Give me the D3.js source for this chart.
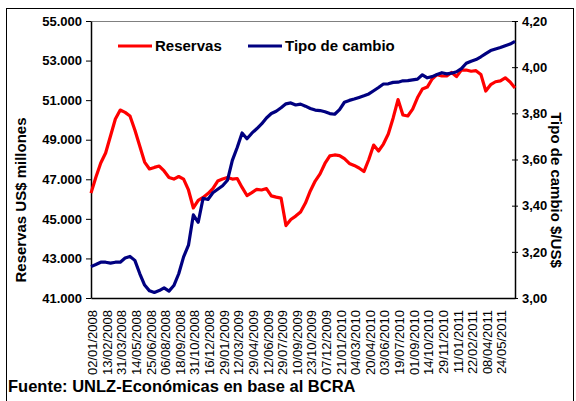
<!DOCTYPE html>
<html>
<head>
<meta charset="utf-8">
<script src="https://cdn.jsdelivr.net/npm/d3@7"></script>
<style>
  body { margin: 0; background: #fff; }
  svg text { font-family: "Liberation Sans", Arial, sans-serif; }
</style>
</head>
<body>
<div id="chart"></div>
<script>
// etiquetas del eje x (cada 30 ruedas)
const fechas = [
  '02/01/2008', '13/02/2008', '31/03/2008', '14/05/2008', '25/06/2008', '06/08/2008',
  '18/09/2008', '31/10/2008', '16/12/2008', '29/01/2009', '12/03/2009', '29/04/2009',
  '12/06/2009', '29/07/2009', '10/09/2009', '23/10/2009', '07/12/2009', '21/01/2010',
  '04/03/2010', '20/04/2010', '03/06/2010', '19/07/2010', '01/09/2010', '14/10/2010',
  '29/11/2010', '11/01/2011', '22/02/2011', '08/04/2011', '24/05/2011',
];
const ruedasPorEtiqueta = 30;
const paso = 10; // ruedas entre cada valor de las series
const ultimaRueda = 870;

// reservas BCRA, millones de US$
const reservas = [
  46300, 47100, 47820, 48330, 49190, 50050, 50500, 50380, 50200, 49490,
  48680, 47870, 47520, 47600, 47670, 47420, 47090, 47010, 47140, 47010,
  46460, 45550, 45930, 46080, 46280, 46530, 46910, 47010, 47090, 47010,
  47040, 46590, 46180, 46330, 46490, 46460, 46530, 46160, 46100, 46050,
  44660, 44970, 45140, 45350, 45800, 46410, 46910, 47270, 47800, 48180,
  48230, 48200, 48040, 47800, 47700, 47570, 47390, 48000, 48730, 48430,
  48780, 49290, 50100, 51030, 50250, 50200, 50550, 51130, 51560, 51660,
  52070, 52290, 52220, 52220, 52400, 52190, 52520, 52520, 52460, 52490,
  52300, 51460, 51780, 51930, 51970, 52130, 51920, 51610,
];

// tipo de cambio $/US$
const tipoCambio = [
  3.136, 3.145, 3.155, 3.155, 3.151, 3.155, 3.155, 3.173, 3.180, 3.163,
  3.106, 3.056, 3.031, 3.024, 3.032, 3.044, 3.030, 3.054, 3.105, 3.178,
  3.229, 3.360, 3.328, 3.432, 3.427, 3.456, 3.471, 3.486, 3.510, 3.596,
  3.652, 3.715, 3.690, 3.714, 3.733, 3.754, 3.780, 3.799, 3.809, 3.824,
  3.841, 3.845, 3.836, 3.840, 3.831, 3.821, 3.814, 3.812, 3.807, 3.799,
  3.796, 3.816, 3.848, 3.856, 3.862, 3.869, 3.876, 3.884, 3.898, 3.912,
  3.927, 3.928, 3.934, 3.935, 3.941, 3.942, 3.945, 3.948, 3.967, 3.954,
  3.959, 3.968, 3.976, 3.971, 3.974, 3.980, 3.994, 4.017, 4.026, 4.033,
  4.045, 4.059, 4.072, 4.079, 4.085, 4.093, 4.100, 4.112,
];

const ticksReservas = [41000, 43000, 45000, 47000, 49000, 51000, 53000, 55000];
const ticksCambio = [3.0, 3.2, 3.4, 3.6, 3.8, 4.0, 4.2];

const width = 576;
const height = 401;
const margin = { top: 21, right: 61, bottom: 103, left: 91 };
const innerW = width - margin.left - margin.right;
const innerH = height - margin.top - margin.bottom;

const svg = d3.select('#chart').append('svg')
  .attr('width', width)
  .attr('height', height);

// marco exterior
svg.append('rect')
  .attr('x', 6.5)
  .attr('y', 8.5)
  .attr('width', 567)
  .attr('height', 400)
  .style('fill', 'none')
  .style('stroke', '#000')
  .style('stroke-width', 1);

const g = svg.append('g')
  .attr('transform', `translate(${margin.left},${margin.top})`);

const x = d3.scaleLinear().domain([0, ultimaRueda]).range([0, innerW]);
const yL = d3.scaleLinear().domain([41000, 55000]).range([innerH, 0]);
const yR = d3.scaleLinear().domain([3.0, 4.2]).range([innerH, 0]);

// borde superior del area de grafico
g.append('line')
  .attr('x1', 0).attr('x2', innerW)
  .attr('y1', 0.5).attr('y2', 0.5)
  .style('stroke', '#808080')
  .style('stroke-width', 1);

const fmtMiles = (d) => d3.format(',.3f')(d / 1000).replace(',', '.');
const fmtCambio = (d) => d3.format('.2f')(d).replace('.', ',');

const axisLeft = d3.axisLeft(yL).tickValues(ticksReservas).tickFormat(fmtMiles)
  .tickSizeInner(5).tickSizeOuter(0).tickPadding(4);
const axisRight = d3.axisRight(yR).tickValues(ticksCambio).tickFormat(fmtCambio)
  .tickSizeInner(3).tickSizeOuter(0).tickPadding(4);
const axisBottom = d3.axisBottom(x)
  .tickValues(fechas.map((d, i) => i * ruedasPorEtiqueta))
  .tickFormat((d) => fechas[d / ruedasPorEtiqueta])
  .tickSize(0).tickPadding(0);

const gl = g.append('g').attr('class', 'y-left').call(axisLeft);
gl.selectAll('text')
  .style('font-size', '13px')
  .style('font-weight', 'bold')
  .attr('fill', '#000');
gl.select('.domain').style('stroke-width', 1.5);

const gr = g.append('g').attr('class', 'y-right')
  .attr('transform', `translate(${innerW},0)`)
  .call(axisRight);
gr.selectAll('.tick line').attr('x1', -3);
gr.selectAll('text')
  .style('font-size', '13px')
  .style('font-weight', 'bold')
  .attr('fill', '#000');
gr.select('.domain').style('stroke-width', 1.5);

const gb = g.append('g').attr('class', 'x-axis')
  .attr('transform', `translate(0,${innerH})`)
  .call(axisBottom);
gb.select('.domain').style('stroke-width', 1.5);
gb.selectAll('text')
  .style('font-size', '13px')
  .attr('fill', '#000')
  .style('text-anchor', 'end')
  .attr('transform', 'rotate(-90)')
  .attr('x', -12)
  .attr('y', 1)
  .attr('dy', '0.35em');

// series
const lineaReservas = d3.line()
  .x((d, i) => x(i * paso))
  .y((d) => yL(d));
const lineaCambio = d3.line()
  .x((d, i) => x(i * paso))
  .y((d) => yR(d));

g.append('path')
  .datum(reservas)
  .attr('d', lineaReservas)
  .style('fill', 'none')
  .style('stroke', '#ff0000')
  .style('stroke-width', 3.2)
  .style('stroke-linejoin', 'round');

g.append('path')
  .datum(tipoCambio)
  .attr('d', lineaCambio)
  .style('fill', 'none')
  .style('stroke', '#000080')
  .style('stroke-width', 3.2)
  .style('stroke-linejoin', 'round');

// leyenda
const leyenda = [
  { nombre: 'Reservas', color: '#ff0000', x: 118 },
  { nombre: 'Tipo de cambio', color: '#000080', x: 248 },
];
const items = svg.selectAll('.leyenda')
  .data(leyenda)
  .enter().append('g')
  .attr('class', 'leyenda')
  .attr('transform', (d) => `translate(${d.x},46)`);
items.append('line')
  .attr('x1', 0).attr('x2', 34)
  .style('stroke', (d) => d.color)
  .style('stroke-width', 3);
items.append('text')
  .attr('x', 37)
  .attr('dy', '0.35em')
  .style('font-size', '15px')
  .style('font-weight', 'bold')
  .text((d) => d.nombre);

// titulos de ejes
svg.append('text')
  .attr('transform', 'translate(21,200) rotate(-90)')
  .attr('dy', '0.35em')
  .style('text-anchor', 'middle')
  .style('font-size', '15px')
  .style('font-weight', 'bold')
  .text('Reservas US$ millones');

svg.append('text')
  .attr('transform', 'translate(556,190) rotate(90)')
  .attr('dy', '0.35em')
  .style('text-anchor', 'middle')
  .style('font-size', '15px')
  .style('font-weight', 'bold')
  .text('Tipo de cambio $/US$');

// fuente
svg.append('text')
  .attr('x', 8)
  .attr('y', 392)
  .style('font-size', '16.5px')
  .style('font-weight', 'bold')
  .text('Fuente: UNLZ-Económicas en base al BCRA');
</script>
</body>
</html>
